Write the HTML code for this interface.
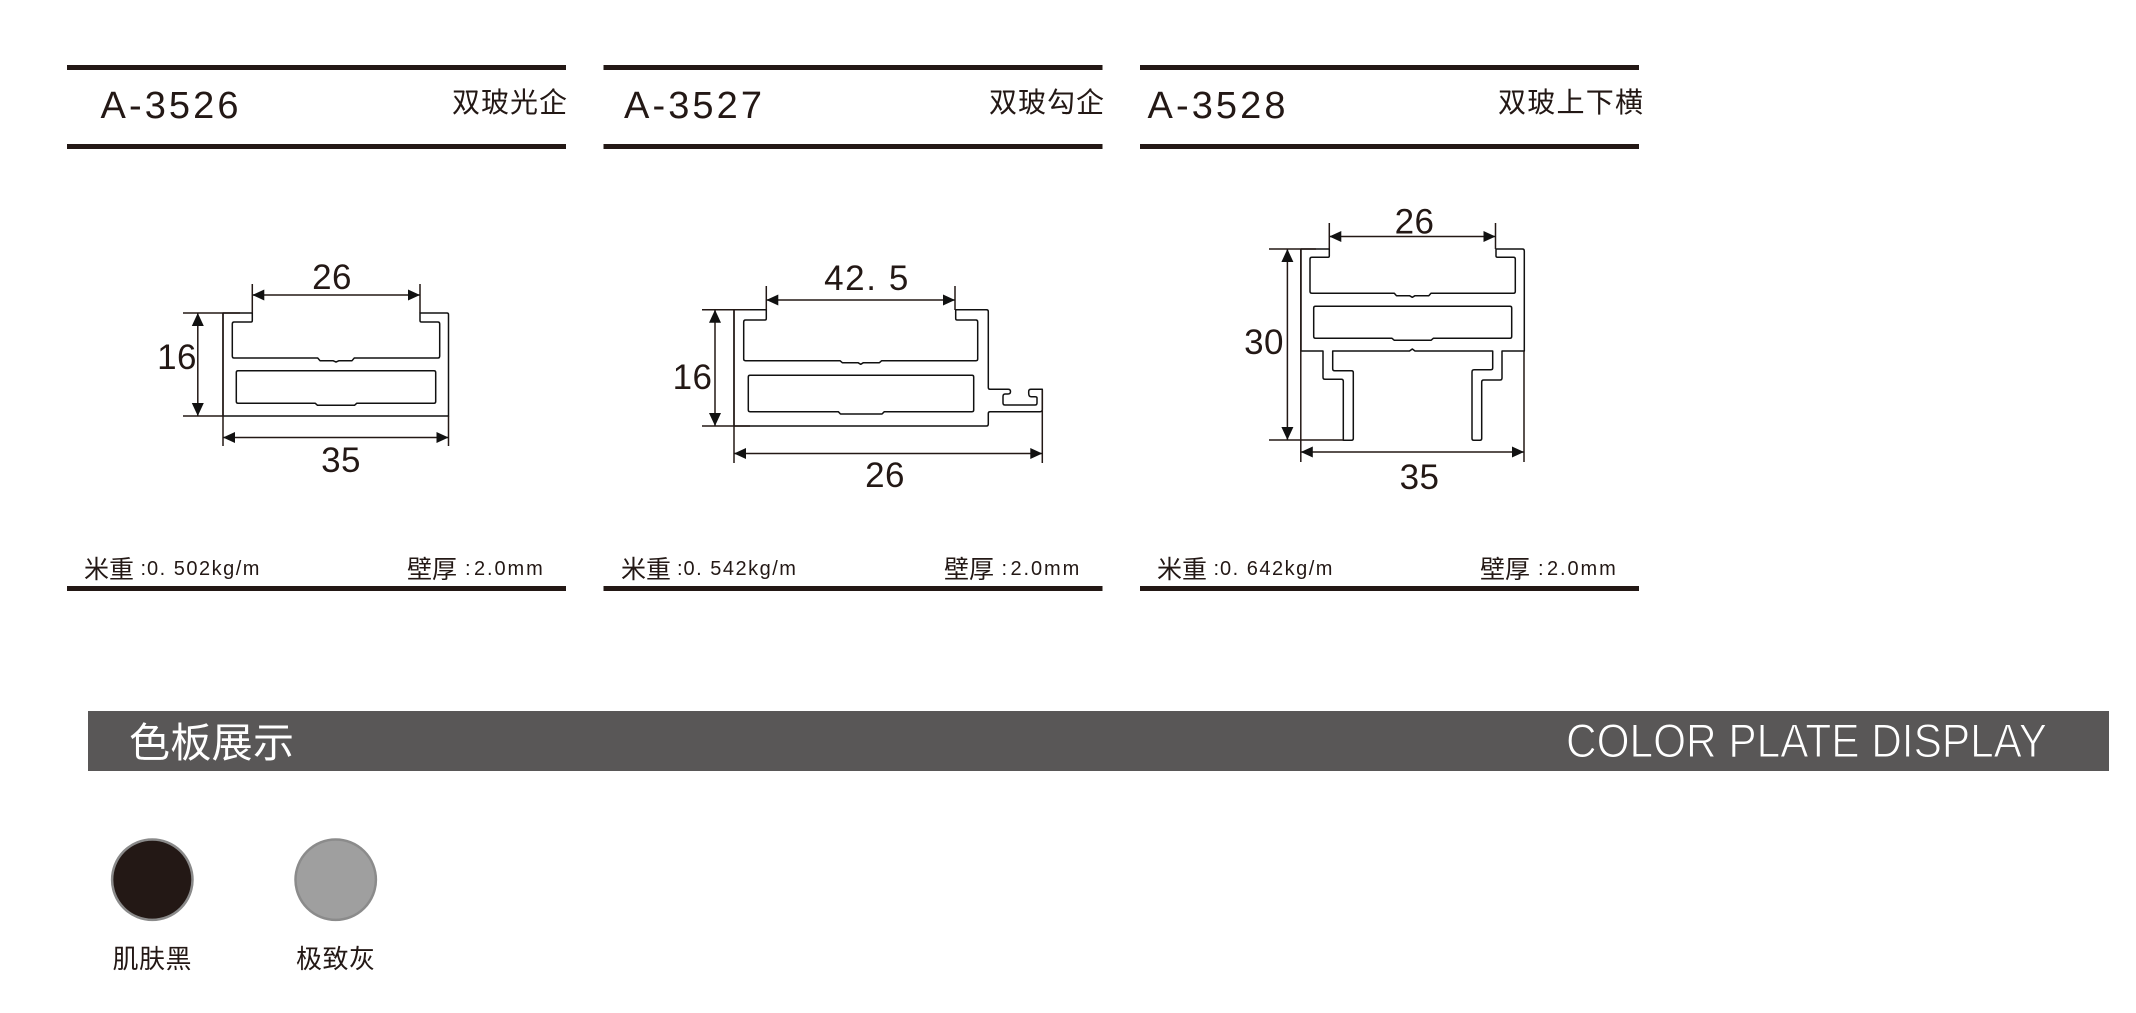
<!DOCTYPE html>
<html lang="zh">
<head>
<meta charset="utf-8">
<title>A-3526 A-3527 A-3528</title>
<style>
html,body{margin:0;padding:0;background:#fff;width:2136px;height:1013px;overflow:hidden}
svg{display:block}
.t{font-family:"Liberation Sans","Noto Sans CJK SC",sans-serif;fill:#231815}
.title{font-size:38px;letter-spacing:3.1px}
.cn{font-family:"Noto Sans CJK SC","Liberation Sans",sans-serif;font-size:28px;font-weight:400;fill:#231815}
.cn2{font-family:"Noto Sans CJK SC","Liberation Sans",sans-serif;font-size:25px;font-weight:400;fill:#231815}
.num{font-size:20px;letter-spacing:1.5px}
.mm{font-size:20px;letter-spacing:1.9px}
.dim{font-size:35px;text-anchor:middle;letter-spacing:.4px}
.p{fill:none;stroke:#111;stroke-width:1.5;stroke-linejoin:round}
.d{fill:none;stroke:#231815;stroke-width:1.5}
.a{fill:#111;stroke:none}
</style>
</head>
<body>
<svg width="2136" height="1013" viewBox="0 0 2136 1013" xmlns="http://www.w3.org/2000/svg">
<rect width="2136" height="1013" fill="#fff"/>

<!-- rules -->
<g fill="#231815">
<rect x="67" y="65" width="499" height="5"/><rect x="67" y="144" width="499" height="5"/><rect x="67" y="586" width="499" height="5"/>
<rect x="603.5" y="65" width="499" height="5"/><rect x="603.5" y="144" width="499" height="5"/><rect x="603.5" y="586" width="499" height="5"/>
<rect x="1140" y="65" width="499" height="5"/><rect x="1140" y="144" width="499" height="5"/><rect x="1140" y="586" width="499" height="5"/>
</g>

<!-- headers -->
<text class="t title" x="100.5" y="118">A-3526</text>
<text class="cn" x="452" y="112" textLength="115">双玻光企</text>
<text class="t title" x="624" y="118">A-3527</text>
<text class="cn" x="989" y="112" textLength="115">双玻勾企</text>
<text class="t title" x="1147.5" y="118">A-3528</text>
<text class="cn" x="1498" y="112" textLength="145">双玻上下横</text>

<!-- footers -->
<text class="cn2" x="84" y="578">米重</text><text class="t num" x="140.5" y="575">:</text><text class="t num" x="147" y="575">0. 502kg/m</text>
<text class="cn2" x="407" y="578">壁厚</text><text class="t num" x="465" y="575">:</text><text class="t mm" x="474" y="575">2.0mm</text>
<text class="cn2" x="621" y="578">米重</text><text class="t num" x="677" y="575">:</text><text class="t num" x="683.5" y="575">0. 542kg/m</text>
<text class="cn2" x="944" y="578">壁厚</text><text class="t num" x="1001.5" y="575">:</text><text class="t mm" x="1010.5" y="575">2.0mm</text>
<text class="cn2" x="1157" y="578">米重</text><text class="t num" x="1213.5" y="575">:</text><text class="t num" x="1220" y="575">0. 642kg/m</text>
<text class="cn2" x="1480" y="578">壁厚</text><text class="t num" x="1538" y="575">:</text><text class="t mm" x="1547" y="575">2.0mm</text>

<!-- A-3526 profile -->
<path class="p" d="M223 313H252.3V320.5Q252.3 322 251 322H234Q232.3 322 232.3 324V356Q232.3 358 234 358H317.7L320 360.7H333L336 362L339 360.7H352L354.3 358H438Q439.7 358 439.7 356V324Q439.7 322 438 322H421.5Q420 322 420 320.5V313H447Q448.5 313 448.5 314.5V416H223Z"/>
<path class="p" d="M238 370.7H434Q435.7 370.7 435.7 372.5V401.5Q435.7 403.3 434 403.3H356.7L354.5 405.3H317.5L315.3 403.3H238Q236.3 403.3 236.3 401.5V372.5Q236.3 370.7 238 370.7Z"/>
<path class="d" d="M252.3 284V313M420 284V313M252.3 295H420M183 313H240M183 416H223M197.8 313V416M223 313V446M448.5 416V446M223 437.5H448.5"/>
<path class="a" d="M252.3 295l12-5.5v11zM420 295l-12-5.5v11zM197.8 313l-6 13h12zM197.8 416l-6-13h12zM223 437.5l12-5.5v11zM448.5 437.5l-12-5.5v11z"/>
<text class="t dim" x="332" y="289">26</text>
<text class="t dim" x="177" y="369">16</text>
<text class="t dim" x="341" y="472">35</text>

<!-- A-3527 profile -->
<path class="p" d="M734 309.7H766.3V318.5Q766.3 320 765 320H745.5Q743.7 320 743.7 322V359Q743.7 360.7 745.5 360.7H840L842.3 362.7H858L860.7 364.3L863.4 362.7H879.4L881.7 360.7H976Q977.7 360.7 977.7 359V322Q977.7 320 976 320H957.2Q955.7 320 955.7 318.5V309.7H986.5Q988.3 309.7 988.3 311.5V387.5Q988.3 389.3 990 389.3H1008Q1010.5 389.3 1010.5 391.5Q1010.5 394 1008 394H1005Q1003 394 1003 396.5V403Q1003 405 1005 405H1035Q1037 405 1037 403V398Q1037 396.7 1035 396.7H1031Q1028.7 396.7 1028.7 393V391.5Q1028.7 389.3 1031 389.3H1042.3V409.5Q1042.3 411.7 1040 411.7H990Q988.3 411.7 988.3 413.5V424Q988.3 426 986.5 426H734Z"/>
<path class="p" d="M750 375.3H972Q973.7 375.3 973.7 377V410Q973.7 411.7 972 411.7H884.3L882 414H840.5L838.3 411.7H750Q748.3 411.7 748.3 410V377Q748.3 375.3 750 375.3Z"/>
<path class="d" d="M766.3 286V310M955 286V310M766.3 300H955M702 309.7H750M702 426H750M715 309.7V426M734 309.7V463M1042.3 390V463M734 453.5H1042.3"/>
<path class="a" d="M766.3 300l12-5.5v11zM955 300l-12-5.5v11zM715 309.7l-6 13h12zM715 426l-6-13h12zM734 453.5l12-5.5v11zM1042.3 453.5l-12-5.5v11z"/>
<text class="t dim" x="867" y="290" style="letter-spacing:1.6px">42. 5</text>
<text class="t dim" x="692.5" y="389">16</text>
<text class="t dim" x="885" y="487">26</text>

<!-- A-3528 profile -->
<path class="p" d="M1301 249H1329.3V256Q1329.3 257.3 1328 257.3H1312Q1310 257.3 1310 259V291.5Q1310 293.3 1312 293.3H1394.3L1396.5 295.7H1409.5L1412.3 297.3L1415 295.7H1428.8L1431 293.3H1513.5Q1515.3 293.3 1515.3 291.5V259Q1515.3 257.3 1513.5 257.3H1497.5Q1496 257.3 1496 256V249H1522.5Q1524.3 249 1524.3 251V351H1502V378Q1502 380 1500 380H1483.7Q1481.7 380 1481.7 382V438.5Q1481.7 440.3 1480 440.3H1473.7Q1472 440.3 1472 438.5V372Q1472 369.7 1474 369.7H1491Q1492.7 369.7 1492.7 368V351H1415L1412.3 349L1409.5 351H1332.7V368.7Q1332.7 370.7 1334.7 370.7H1351.5Q1353.3 370.7 1353.3 372.5V438.5Q1353.3 440.3 1351.5 440.3H1343.3V381.3Q1343.3 379.3 1341.3 379.3H1325Q1323 379.3 1323 377.3V351H1301Z"/>
<path class="p" d="M1315.5 306.3H1510Q1511.7 306.3 1511.7 308V336.5Q1511.7 338.3 1510 338.3H1433.3L1431 340.3H1394.3L1392 338.3H1315.5Q1313.7 338.3 1313.7 336.5V308Q1313.7 306.3 1315.5 306.3Z"/>
<path class="d" d="M1329.3 223V249M1495.5 223V249M1329.3 236.5H1495.5M1269 249H1316M1269 440H1344M1287.4 249V440M1300.8 249V462M1524 351V462M1300.8 452H1524"/>
<path class="a" d="M1329.3 236.5l12-5.5v11zM1495.5 236.5l-12-5.5v11zM1287.4 249l-6 13h12zM1287.4 440l-6-13h12zM1300.8 452l12-5.5v11zM1524 452l-12-5.5v11z"/>
<text class="t dim" x="1414.5" y="233.5">26</text>
<text class="t dim" x="1264" y="354">30</text>
<text class="t dim" x="1419.5" y="489">35</text>

<!-- band -->
<rect x="88" y="711" width="2021" height="60" fill="#595757"/>
<text x="129" y="757" font-size="41" font-weight="400" fill="#fff" style="font-family:'Noto Sans CJK SC','Liberation Sans',sans-serif" textLength="165">色板展示</text>
<text x="1566" y="757" font-size="47" fill="#fff" stroke="#595757" stroke-width="1.1" style="font-family:'Liberation Sans',sans-serif" textLength="481" lengthAdjust="spacingAndGlyphs">COLOR PLATE DISPLAY</text>

<!-- swatches -->
<circle cx="152.3" cy="879.7" r="40.2" fill="#231815" stroke="#8a8a8a" stroke-width="2.5"/>
<circle cx="335.7" cy="879.7" r="40.2" fill="#9f9f9f" stroke="#8b8b8b" stroke-width="2.5"/>
<text x="112.5" y="968" font-size="26" font-weight="400" fill="#231815" style="font-family:'Noto Sans CJK SC','Liberation Sans',sans-serif" textLength="79">肌肤黑</text>
<text x="296" y="968" font-size="26" font-weight="400" fill="#231815" style="font-family:'Noto Sans CJK SC','Liberation Sans',sans-serif" textLength="79">极致灰</text>
</svg>
</body>
</html>
